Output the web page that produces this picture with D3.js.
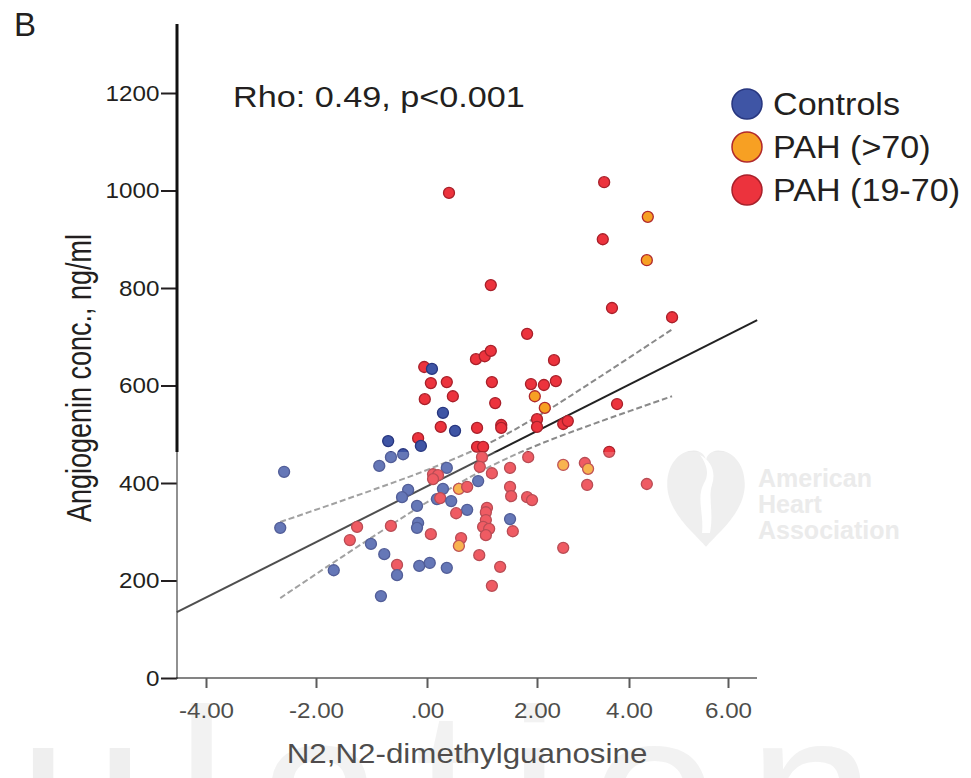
<!DOCTYPE html>
<html><head><meta charset="utf-8">
<script src="https://cdn.jsdelivr.net/npm/d3@7"></script>
<style>body{margin:0;background:#fff} svg{display:block}</style>
</head><body>
<svg id="chart" width="971" height="778"></svg>
<script>
// ---------------- data ----------------
const groups = ["Controls", "PAH (>70)", "PAH (19-70)"];
const xTicks = [-4, -2, 0, 2, 4, 6];
const xTickLabels = ["-4.00", "-2.00", ".00", "2.00", "4.00", "6.00"];
const yTicks = [0, 200, 400, 600, 800, 1000, 1200];
const pointX = [0.40,3.46,4.38,3.43,4.36,1.16,3.63,4.87,1.82,0.89,
  1.05,1.16,2.37,-0.05,0.09,0.07,0.36,1.18,1.89,2.15,
  2.41,-0.04,0.47,1.96,1.24,2.17,3.74,0.29,0.25,0.51,
  0.91,1.35,1.35,2.00,2.00,2.57,2.67,-0.70,-0.16,-0.11,
  0.91,1.02,3.57,
  -0.65,-0.43,-0.86,-2.58,0.36,
  0.11,0.20,0.11,1.00,1.84,0.96,1.18,1.51,
  2.57,3.04,3.11,0.93,3.09,4.36,
  -0.34,-0.45,0.29,0.58,0.73,1.51,1.53,1.82,1.91,
  0.18,0.24,0.44,-0.18,0.73,0.53,1.09,1.07,1.07,1.02,1.13,1.07,
  1.51,1.56,-2.65,-1.26,-0.65,-0.16,-0.18,0.07,-1.39,-1.01,-0.77,0.62,0.58,2.57,0.95,
  -1.68,-0.54,-0.54,-0.14,0.05,0.36,1.33,-0.83,1.18];
const pointY = [995,1017,946,900,857,806,759,740,706,654,
  660,671,652,638,634,605,607,607,603,601,
  609,572,578,578,564,554,562,544,515,507,
  513,519,513,531,515,521,527,486,492,476,
  474,474,464,
  453,459,435,423,431,
  418,416,408,453,453,433,420,431,
  437,441,429,404,396,398,
  386,371,388,388,392,392,373,371,365,
  367,369,363,353,345,338,349,340,324,310,306,293,
  326,301,308,310,312,318,308,295,283,275,254,287,271,267,252,
  221,232,211,230,236,226,228,168,189];
const pointGroup = [2,2,1,2,1,2,2,2,2,2,
  2,2,2,2,0,2,2,2,2,2,
  2,2,2,1,2,1,2,0,2,0,
  2,2,2,2,2,2,2,0,2,0,
  2,2,2,
  0,0,0,0,0,
  2,2,2,2,2,2,2,2,
  1,2,1,0,2,2,
  0,0,0,1,2,2,2,2,2,
  0,2,0,0,0,2,2,2,2,2,2,2,
  0,2,0,2,2,0,0,2,2,0,0,2,1,2,2,
  0,2,0,0,0,0,2,0,2];
const fitX = [-4.53, 6.59];
const fitY = [135, 734];
const ciX = [-2.65, -1.75, -0.85, 0.05, 1.15, 2.07, 3.37, 4.87];
const ciUpper = [320, 355, 391, 429, 483, 540, 618, 715];
const ciLower = [164, 232, 299, 364, 434, 480, 526, 578];
const statText = "Rho: 0.49, p<0.001";
const xTitle = "N2,N2-dimethylguanosine";
const yTitle = "Angiogenin conc., ng/ml";

// ---------------- drawing ----------------
const svg = d3.select("#chart");
const FONT = "'Liberation Sans', Arial, Helvetica, sans-serif";
const fill = ["#3F55A5", "#F7A023", "#EC333D"];
const stroke = ["#27367F", "#B0282B", "#A8202A"];

const x = d3.scaleLinear().domain(xTicks).range([206, 316, 427, 537, 629, 728]);
const y = d3.scaleLinear().domain([0, 1200]).range([678, 93]);
const left = 177, right = 757, bottom = 678;

// bottom watermark (faint, behind everything)
svg.append("text").attr("x", 18).attr("y", 870).attr("font-family", FONT)
  .attr("font-size", 230).attr("fill", "#efefef").attr("letter-spacing", 30).text("ulation");

// panel letter
svg.append("text").attr("x", 14).attr("y", 36).attr("font-family", FONT)
  .attr("font-size", 33).attr("fill", "#231f20").text("B");

// fit line
svg.append("line")
  .attr("x1", x(fitX[0])).attr("y1", y(fitY[0]))
  .attr("x2", x(fitX[1])).attr("y2", y(fitY[1]))
  .attr("stroke", "#222").attr("stroke-width", 2);

// CI curves
const ciLine = d3.line().curve(d3.curveCatmullRom)
  .x((d, i) => x(ciX[i])).y(d => y(d));
[ciUpper, ciLower].forEach(arr => {
  svg.append("path").attr("d", ciLine(arr)).attr("fill", "none")
    .attr("stroke", "#8a8a8a").attr("stroke-width", 2).attr("stroke-dasharray", "6,3");
});

// points
svg.append("g").selectAll("circle").data(pointX).join("circle")
  .attr("cx", (d, i) => x(pointX[i]))
  .attr("cy", (d, i) => y(pointY[i]))
  .attr("r", 5.5)
  .attr("fill", (d, i) => fill[pointGroup[i]])
  .attr("stroke", (d, i) => stroke[pointGroup[i]])
  .attr("stroke-width", 1.3);

// y axis
const yAxis = svg.append("g").attr("transform", `translate(${left},0)`)
  .call(d3.axisLeft(y).tickValues(yTicks).tickSize(16).tickPadding(0).tickFormat(d3.format("d")));
yAxis.select(".domain").remove();
yAxis.selectAll(".tick line").attr("stroke", "#231f20").attr("stroke-width", 2);
yAxis.selectAll(".tick text").attr("font-family", FONT).attr("font-size", 22)
  .attr("fill", "#231f20").attr("transform", "scale(1.1,1)");
svg.append("line").attr("x1", left).attr("x2", left).attr("y1", 24).attr("y2", 452)
  .attr("stroke", "#111").attr("stroke-width", 3);
svg.append("line").attr("x1", left).attr("x2", left).attr("y1", 452).attr("y2", bottom + 1)
  .attr("stroke", "#555").attr("stroke-width", 1.3);

// x axis
const xAxis = svg.append("g").attr("transform", `translate(0,${bottom})`)
  .call(d3.axisBottom(x).tickValues(xTicks).tickSize(10).tickPadding(14)
    .tickFormat((d, i) => xTickLabels[i]));
xAxis.select(".domain").remove();
xAxis.selectAll(".tick line").attr("stroke", "#333").attr("stroke-width", 2);
xAxis.selectAll(".tick text").attr("font-family", FONT).attr("font-size", 22)
  .attr("fill", "#231f20").attr("transform", "scale(1.1,1)");
svg.append("line").attr("x1", left - 1).attr("x2", right).attr("y1", bottom).attr("y2", bottom)
  .attr("stroke", "#333").attr("stroke-width", 1.6);

// stat text
svg.append("text").attr("transform", "translate(233,107) scale(1.14,1)")
  .attr("font-family", FONT).attr("font-size", 30).attr("fill", "#231f20").text(statText);

// axis titles
svg.append("text").attr("transform", "translate(467,763) scale(1.12,1)")
  .attr("text-anchor", "middle").attr("font-family", FONT).attr("font-size", 28)
  .attr("fill", "#231f20").text(xTitle);
svg.append("text").attr("transform", "translate(91,378) rotate(-90) scale(1,1.3)")
  .attr("text-anchor", "middle").attr("font-family", FONT).attr("font-size", 27)
  .attr("fill", "#231f20").text(yTitle);

// legend
const lg = svg.append("g");
groups.forEach((g, i) => {
  const cy = 104 + i * 43;
  lg.append("circle").attr("cx", 747).attr("cy", cy).attr("r", 15)
    .attr("fill", fill[i]).attr("stroke", stroke[i]).attr("stroke-width", 1.5);
  lg.append("text").attr("transform", `translate(773,${cy + 11}) scale(1.066,1)`)
    .attr("font-family", FONT).attr("font-size", 32).attr("fill", "#231f20").text(g);
});

// watermark logo
const wm = svg.append("g").attr("fill", "#ebebeb");
wm.append("path").attr("transform", "translate(706,503) scale(1.02,1.25)")
  .attr("d", "M0,35 C-10,25 -38,8 -38,-15 C-38,-32 -25,-42 -12,-42 C-5,-42 0,-38 0,-33 C0,-38 5,-42 12,-42 C25,-42 38,-32 38,-15 C38,8 10,25 0,35 Z");
wm.append("path").attr("transform", "translate(706,503)")
  .attr("d", "M-4,30 C-2,10 -10,-5 -2,-20 C4,-30 0,-40 -6,-48 C6,-42 10,-30 6,-18 C2,-6 8,10 4,30 Z")
  .attr("fill", "#fff");
["American", "Heart", "Association"].forEach((t, i) => {
  wm.append("text").attr("x", 758).attr("y", 487 + i * 26).attr("font-family", FONT)
    .attr("font-size", 25).attr("font-weight", "bold").attr("fill", "#e6e6e6").text(t);
});

// faded overlay on lower part
svg.append("rect").attr("x", left + 1).attr("y", 452).attr("width", 971 - left).attr("height", 778 - 452)
  .attr("fill", "#fff").attr("opacity", 0.2);
</script>
</body></html>
